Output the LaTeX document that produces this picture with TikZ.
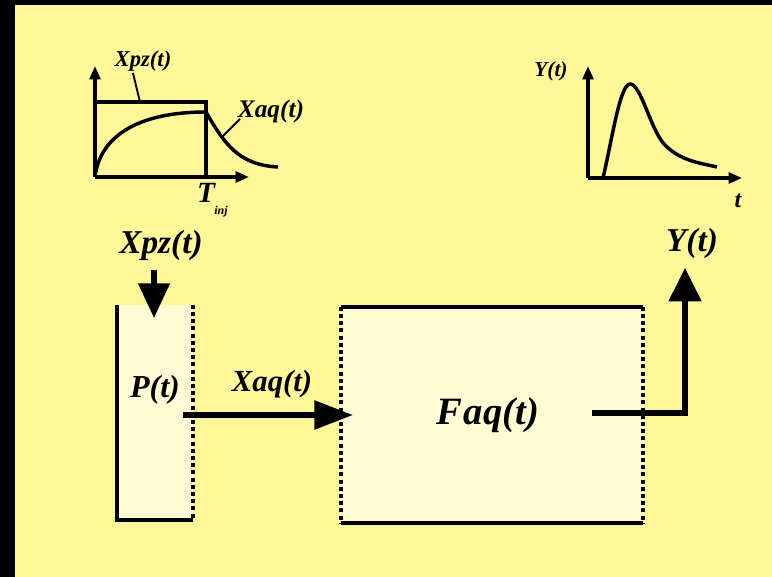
\documentclass[tikz,border=0pt]{standalone}
\usepackage{fontspec}
\setmainfont{Liberation Serif}
\usetikzlibrary{arrows.meta}
\definecolor{bgyellow}{RGB}{255,247,153}
\definecolor{boxfill}{RGB}{255,251,212}
\begin{document}
\begin{tikzpicture}[x=0.75pt,y=-0.75pt,
  lbl/.style={font=\bfseries\itshape, inner sep=0pt},
  axis/.style={line width=2.6pt, -{Triangle[length=10pt,width=8pt]}},
  plotline/.style={line width=2.6pt},
  leader/.style={line width=1.4pt},
  solidedge/.style={line width=3pt},
  dotedge/.style={line width=3pt, dash pattern=on 3pt off 2.4pt},
  boxstyle/.style={fill=boxfill, draw=none, inner sep=0pt},
  bigarrow/.style={line width=4.2pt, -{Triangle[length=26pt,width=23pt]}},
]
\fill[black] (0,0) rectangle (772,577);
\fill[bgyellow] (15,5) rectangle (772,577);
\useasboundingbox (0,0) rectangle (772,577);

% ---------- small plot, top left ----------
\coordinate (o1) at (95,177);
\coordinate (y1) at (95,66);
\coordinate (x1) at (249,177);
\coordinate (r1a) at (95,102);
\coordinate (r1b) at (206,102);
\coordinate (r1c) at (206,177);
\coordinate (sat) at (206,112);
\coordinate (tail) at (278,167);
\draw[plotline] (o1) .. controls (100,135) and (140,112) .. (sat)
  .. controls (224,143) and (238,165) .. (tail);
\draw[plotline] (r1a) -- (r1b) -- (r1c);
\draw[axis] (o1) -- (y1);
\draw[axis] (o1) -- (x1);
\node[lbl, font=\fontsize{17}{17}\selectfont\bfseries\itshape] (xpzs) at (143,61) {Xpz(t)};
\node[lbl, font=\fontsize{19}{19}\selectfont\bfseries\itshape] (xaqs) at (271,111) {Xaq(t)};
\coordinate (xpzsfoot) at (140,102);
\coordinate (xaqsfoot) at (223,136);
\draw[leader] (133,73) -- (xpzsfoot);
\draw[leader] (240,119) -- (xaqsfoot);
\node[lbl, font=\fontsize{22}{22}\selectfont\bfseries\itshape, anchor=base] (tinj) at (206,203) {T};
\node[lbl, font=\fontsize{9}{9}\selectfont\bfseries\itshape, anchor=base west] (inj) at (214,215) {inj};

% ---------- small plot, top right ----------
\coordinate (o2) at (588,178);
\coordinate (y2) at (588,66);
\coordinate (x2) at (742,178);
\draw[plotline] (603,178) .. controls (612,140) and (620,84) .. (630,84)
  .. controls (641,84) and (650,128) .. (664,144)
  .. controls (680,161) and (700,163) .. (717,167);
\draw[axis] (o2) -- (y2);
\draw[axis] (o2) -- (x2);
\node[lbl, font=\fontsize{16}{16}\selectfont\bfseries\itshape] (ys) at (551,71) {Y(t)};
\node[lbl, font=\fontsize{18}{18}\selectfont\bfseries\itshape] (tlab) at (738,201) {t};

% ---------- main diagram ----------
\node[boxstyle, minimum width=57pt, minimum height=161.25pt] (P) at (155,412.5) {};
\draw[solidedge] (P.north west) -- (P.south west) -- (P.south east);
\draw[dotedge] (P.north east) -- (P.south east);
\node[lbl, font=\fontsize{24}{24}\selectfont\bfseries\itshape] (plab) at (155,390) {P(t)};

\node[boxstyle, minimum width=226.5pt, minimum height=162pt] (F) at (492,415) {};
\draw[solidedge] (F.north west) -- (F.north east);
\draw[solidedge] (F.south west) -- (F.south east);
\draw[dotedge] (F.north west) -- (F.south west);
\draw[dotedge] (F.north east) -- (F.south east);
\node[lbl, font=\fontsize{29}{29}\selectfont\bfseries\itshape] (flab) at (488,415) {F\kern1pt aq(t)};

\node[lbl, font=\fontsize{25}{25}\selectfont\bfseries\itshape] (xpzL) at (161,245) {Xpz(t)};
\coordinate (xpzStart) at (154,270);
\coordinate (xpzEnd) at (154,318);
\draw[bigarrow] (xpzStart) -- (xpzEnd);

\node[lbl, font=\fontsize{23}{23}\selectfont\bfseries\itshape] (xaqL) at (272,384) {Xaq(t)};
\coordinate (xaqStart) at (183,415);
\coordinate (xaqEnd) at (353,415);
\draw[bigarrow, -{Triangle[length=29pt,width=21pt]}] (xaqStart) -- (xaqEnd);

\node[lbl, font=\fontsize{25}{25}\selectfont\bfseries\itshape] (yL) at (692,243) {Y(t)};
\coordinate (outStart) at (592,413);
\coordinate (outEnd) at (685,268);
\draw[bigarrow, line width=3.8pt, -{Triangle[length=25pt,width=24pt]}] (outStart) -| (outEnd);
\end{tikzpicture}
\end{document}
